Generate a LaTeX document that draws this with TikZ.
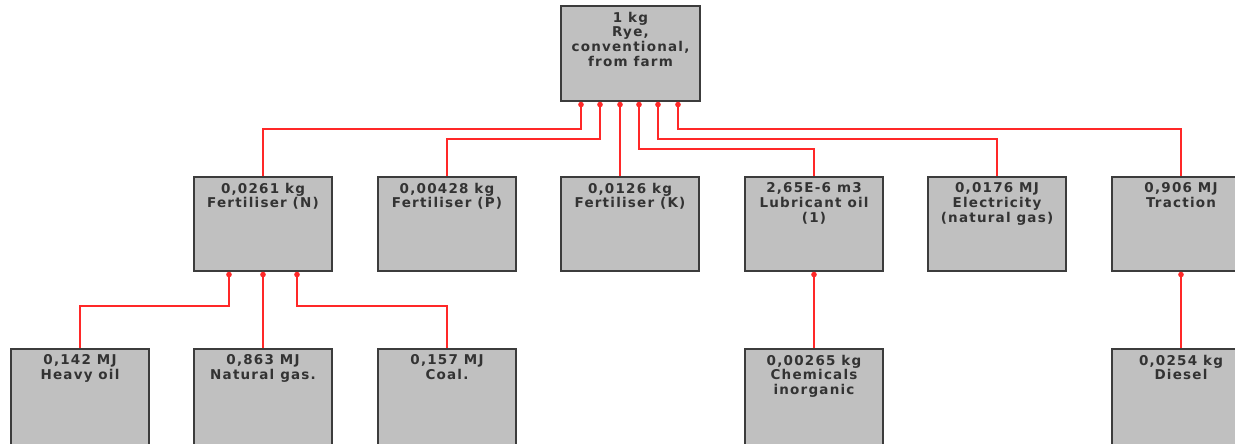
\documentclass[tikz,border=0pt]{standalone}
\usepackage{fontspec}
\setmainfont[LetterSpace=9]{DejaVu Sans}
\usetikzlibrary{arrows.meta}
\definecolor{boxgray}{RGB}{192,192,192}
\definecolor{boxline}{RGB}{60,60,60}
\definecolor{linkred}{RGB}{255,40,40}

\begin{document}
\begin{tikzpicture}[x=1pt, y=-1pt,
  box/.style={draw=boxline, fill=boxgray, line width=1.6pt, minimum width=138pt, minimum height=94pt, inner sep=0pt},
  low/.style={box, minimum height=100pt},
  txt/.style={anchor=north, align=center, inner sep=6.5pt, text=black!80, font=\bfseries\fontsize{13.5}{14.7}\selectfont},
  link/.style={draw=linkred, line width=1.5pt, -{Circle[length=5.5pt]}}]
\useasboundingbox (0,0) rectangle (1235,444);
% top
\node[box, minimum width=139pt, minimum height=95pt, label={[txt]north:{1 kg\\Rye,\\conventional,\\from farm}}] (rye) at (630.5,53.5) {};
% second row
\node[box, label={[txt]north:{0,0261 kg\\Fertiliser (N)}}] (fn) at (263,224) {};
\node[box, label={[txt]north:{0,00428 kg\\Fertiliser (P)}}] (fp) at (447,224) {};
\node[box, label={[txt]north:{0,0126 kg\\Fertiliser (K)}}] (fk) at (630,224) {};
\node[box, label={[txt]north:{2,65E-6 m3\\Lubricant oil\\(1)}}] (lub) at (814,224) {};
\node[box, label={[txt]north:{0,0176 MJ\\Electricity\\(natural gas)}}] (ele) at (997,224) {};
\node[box, label={[txt]north:{0,906 MJ\\Traction}}] (tra) at (1181,224) {};
% third row
\node[low, label={[txt]north:{0,142 MJ\\Heavy oil}}] (hoil) at (80,399) {};
\node[low, label={[txt]north:{0,863 MJ\\Natural gas.}}] (ngas) at (263,399) {};
\node[low, label={[txt]north:{0,157 MJ\\Coal.}}] (coal) at (447,399) {};
\node[low, label={[txt]north:{0,00265 kg\\Chemicals\\inorganic}}] (chem) at (814,399) {};
\node[low, label={[txt]north:{0,0254 kg\\Diesel}}] (dies) at (1181,399) {};
% links into the rye box
\foreach \n/\dx/\h in {fn/-49.5/47, fp/-30.5/37, lub/8.5/27, ele/27.5/37, tra/47.5/47}
  \draw[link] (\n.north) -- ++(0,-\h) -| ([xshift=\dx pt]rye.south);
\draw[link] ([xshift=-10pt]fk.north) -- ([xshift=-10.5pt]rye.south);
% links into the second row
\draw[link] (hoil.north) -- ++(0,-42) -| ([xshift=-34pt]fn.south);
\draw[link] (ngas.north) -- (fn.south);
\draw[link] (coal.north) -- ++(0,-42) -| ([xshift=34pt]fn.south);
\draw[link] (chem.north) -- (lub.south);
\draw[link] (dies.north) -- (tra.south);
\end{tikzpicture}
\end{document}
